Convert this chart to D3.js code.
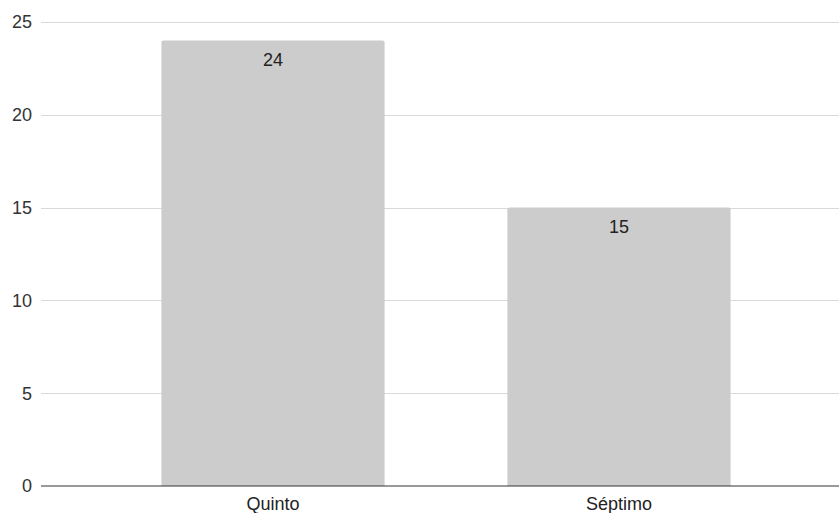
<!DOCTYPE html>
<html><head><meta charset="utf-8">
<script src="https://cdn.jsdelivr.net/npm/d3@7"></script>
<style>body{margin:0;background:#fff}svg{display:block}text{font-family:Arial,"Liberation Sans",sans-serif}</style>
</head><body><svg id="c" width="839" height="513"></svg>
<script>
const categories = ["Quinto", "Séptimo"];
const values = [24, 15];
const yTicks = [0, 5, 10, 15, 20, 25];

const svg = d3.select("#c");
const gridLeft = 41, gridRight = 839;
const y = d3.scaleLinear().domain([0, 25]).range([486, 22]);
const x = d3.scaleBand().domain(categories).range([100, 792]).paddingInner(0.355).paddingOuter(0.1775);

// gridlines
svg.append("g").selectAll("line").data(yTicks.filter(d => d !== 0)).join("line")
  .attr("x1", gridLeft).attr("x2", gridRight)
  .attr("y1", d => Math.round(y(d)) + 0.5).attr("y2", d => Math.round(y(d)) + 0.5)
  .attr("stroke", "#d9d9d9").attr("stroke-width", 1);

// y labels
svg.append("g").selectAll("text").data(yTicks).join("text")
  .attr("x", 32).attr("y", d => y(d)).attr("dy", "0.36em")
  .attr("text-anchor", "end").attr("font-size", 18).attr("fill", "#333")
  .text(d => d);

// bars with small rounded top corners
const r = 2;
svg.append("g").selectAll("path").data(categories).join("path")
  .attr("fill", "#cccccc")
  .attr("d", (c, i) => {
    const x0 = x(c), x1 = x(c) + x.bandwidth(), y0 = y(values[i]), yb = y(0);
    return `M${x0},${yb}V${y0 + r}Q${x0},${y0} ${x0 + r},${y0}H${x1 - r}Q${x1},${y0} ${x1},${y0 + r}V${yb}Z`;
  });

// value labels
svg.append("g").selectAll("text").data(categories).join("text")
  .attr("x", c => x(c) + x.bandwidth() / 2)
  .attr("y", (c, i) => y(values[i]) + 25.5)
  .attr("text-anchor", "middle").attr("font-size", 18).attr("fill", "#222")
  .text((c, i) => values[i]);

// baseline
svg.append("line").attr("x1", gridLeft).attr("x2", gridRight)
  .attr("y1", y(0)).attr("y2", y(0)).attr("stroke", "#333").attr("stroke-width", 1);

// x labels
svg.append("g").selectAll("text").data(categories).join("text")
  .attr("x", c => x(c) + x.bandwidth() / 2).attr("y", 510)
  .attr("text-anchor", "middle").attr("font-size", 18).attr("fill", "#222")
  .text(c => c);
</script></body></html>
